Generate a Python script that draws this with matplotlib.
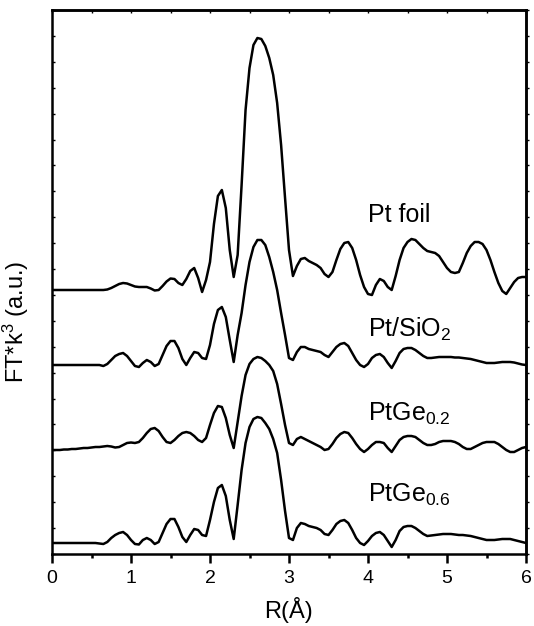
import numpy as np
import matplotlib.pyplot as plt
from matplotlib.ticker import MultipleLocator

plt.rcParams['font.family'] = ['Liberation Sans', 'DejaVu Sans']
plt.rcParams['mathtext.fontset'] = 'custom'
plt.rcParams['mathtext.rm'] = 'Liberation Sans'
plt.rcParams['mathtext.it'] = 'Liberation Sans:italic'
plt.rcParams['mathtext.bf'] = 'Liberation Sans:bold'

# R grid (Angstrom), 0.05 step
r = np.linspace(0, 6, 121)

# |FT(k^3 chi)| magnitudes, a.u., one row per 0.5 A
pt_foil = [
    0, 0, 0, 0, 0, 0, 0, 0, 0, 0,
    0, 0, 0, 0, 0.5, 2, 4, 6, 7, 6.5,
    5, 3.5, 3, 3, 3, 1.5, -0.5, 0, 4, 8.5,
    11.5, 11, 7, 5, 11, 19, 22, 12, -2, 10,
    28, 66, 94, 100, 82, 40, 13, 35, 105, 180,
    222, 245, 252, 251, 244, 232, 215, 187, 145, 92,
    40, 14, 24, 31, 32, 29, 27, 25, 22, 16,
    13, 18, 30, 41, 47, 48, 42, 30, 15, 3,
    -4, -5, 5, 11, 9, 3, 0, 14, 30, 42,
    48, 51, 50, 46, 42, 39, 38, 37, 34, 28,
    22, 18, 17, 18, 27, 37, 44, 48, 48, 46,
    40, 30, 18, 7, -1, -4, 2, 8, 12, 13,
    13,
]
pt_sio2 = [
    0, 0, 0, 0, 0, 0, 0, 0, 0, 0,
    0, 0, 0, -1, 1, 5, 9, 11, 12, 9,
    4, -1, -2, 2, 5, 3, -1, 1, 10, 19,
    24, 24, 17, 6, 0, 7, 13, 12, 7, 6,
    20, 41, 55, 58, 48, 25, 3, 30, 52, 80,
    103, 118, 125, 125, 120, 108, 93, 75, 52, 30,
    7, 5, 13, 18, 18, 16, 15, 14, 13, 10,
    8, 13, 18, 21, 22, 19, 12, 5, 0, -2,
    1, 7, 10, 11, 8, 2, -3, 4, 12, 16,
    17, 17, 15, 12, 9, 7, 7, 7.5, 8, 8,
    8, 8, 7.5, 7.5, 7, 6.5, 6, 5, 4, 3,
    2, 2, 2, 2.5, 3, 3, 3, 2.5, 1.5, 0.5,
    0,
]
ptge_02 = [
    0, 0, 0, 0.5, 0.5, 1, 1, 1.5, 2, 2,
    2.5, 3, 3, 3.5, 4, 3.5, 2.5, 3, 5, 7,
    7.5, 7, 8, 12, 17, 21, 22, 19, 13, 8,
    7, 10, 14, 17, 18, 17, 14, 10, 8, 12,
    25, 37, 44, 43, 32, 15, 2, 28, 54, 75,
    86, 91, 93, 92, 89, 85, 79, 66, 46, 25,
    7, 5, 11, 13, 11, 9, 7, 5, 3, 0,
    1, 6, 12, 16, 18, 17, 12, 6, 1, -2,
    1, 5, 8, 8, 7, 2, -2, 4, 10, 13,
    14, 14, 13, 10, 7, 5, 5, 6, 8, 9,
    9, 9, 8, 6, 3, 1, 1, 3, 5, 7,
    8, 8, 8, 6, 3, 0, -2, -2, 0, 2,
    3,
]
ptge_06 = [
    0, 0, 0, 0, 0, 0, 0, 0, 0, 0,
    0, 0, -0.5, -1, 1, 5, 8, 10, 11, 8,
    3, -1, -1.5, 3, 5, 3, -1, 1, 10, 19,
    24, 24, 16, 6, 1, 8, 14, 13, 8, 7,
    23, 41, 55, 58, 47, 23, 4, 38, 73, 100,
    116, 124, 126, 125, 120, 114, 104, 90, 63, 32,
    5, 3, 15, 20, 19, 17, 16, 15, 13, 9,
    8, 13, 19, 22, 23, 20, 13, 5, 0, -2,
    2, 7, 10, 11, 8, 2, -4, 3, 12, 16,
    17, 17, 15, 12, 9, 7, 7.5, 8, 8.5, 9,
    9, 9, 8.5, 8, 8, 7.5, 7, 6, 5, 4,
    3, 3, 3, 3.5, 4, 4, 4, 3, 2, 1,
    0,
]

samples = [pt_foil, pt_sio2, ptge_02, ptge_06]
names = ['Pt foil', r'Pt/SiO$_{\mathregular{2}}$',
         r'PtGe$_{\mathregular{0.2}}$', r'PtGe$_{\mathregular{0.6}}$']
offsets = [264, 189, 104, 11]
label_y = [332, 217, 133, 52]

fig = plt.figure(figsize=(5.34, 6.26), dpi=100)
ax = fig.add_axes([52 / 534, 72 / 626, 474 / 534, 544 / 626])

for vals, off in zip(samples, offsets):
    ax.plot(r, np.array(vals) + off, color='black', lw=1.8, solid_joinstyle='round')

for name, ly in zip(names, label_y):
    ax.text(4.0, ly, name, fontsize=18, ha='left', va='baseline')

ax.set_xlim(0, 6)
ax.set_ylim(0, 544)
ax.set_xticks(range(7))
ax.xaxis.set_minor_locator(MultipleLocator(0.5))
ax.set_yticks(np.linspace(0, 544, 22))

for sp in ax.spines.values():
    sp.set_linewidth(1.8)

ax.tick_params(axis='x', which='major', direction='out', length=6.5, width=1.8,
               labelsize=14, pad=5, top=False)
ax.tick_params(axis='x', which='minor', direction='out', length=3.2, width=1.8, top=False)
ax.tick_params(axis='y', which='both', direction='in', length=2, width=1,
               labelleft=False, right=False)

top = ax.secondary_xaxis('top')
top.set_xticks(np.arange(0, 6.01, 0.5))
top.tick_params(direction='in', length=2, width=1, labeltop=False)
top.spines['top'].set_linewidth(1.8)

right = ax.secondary_yaxis('right')
right.set_yticks(np.linspace(0, 544, 22))
right.tick_params(direction='out', length=2.5, width=1, labelright=False)
right.spines['right'].set_linewidth(1.8)

ax.set_xlabel('R(Å)', fontsize=17)
ax.xaxis.set_label_coords(0.5, -0.079)
ax.xaxis.label.set_va('top')
ax.set_ylabel(r'FT*k$^{\mathregular{3}}$ (a.u.)', fontsize=17)
ax.yaxis.set_label_coords(-0.045, 0.426)

fig.savefig('out.png', dpi=100)
